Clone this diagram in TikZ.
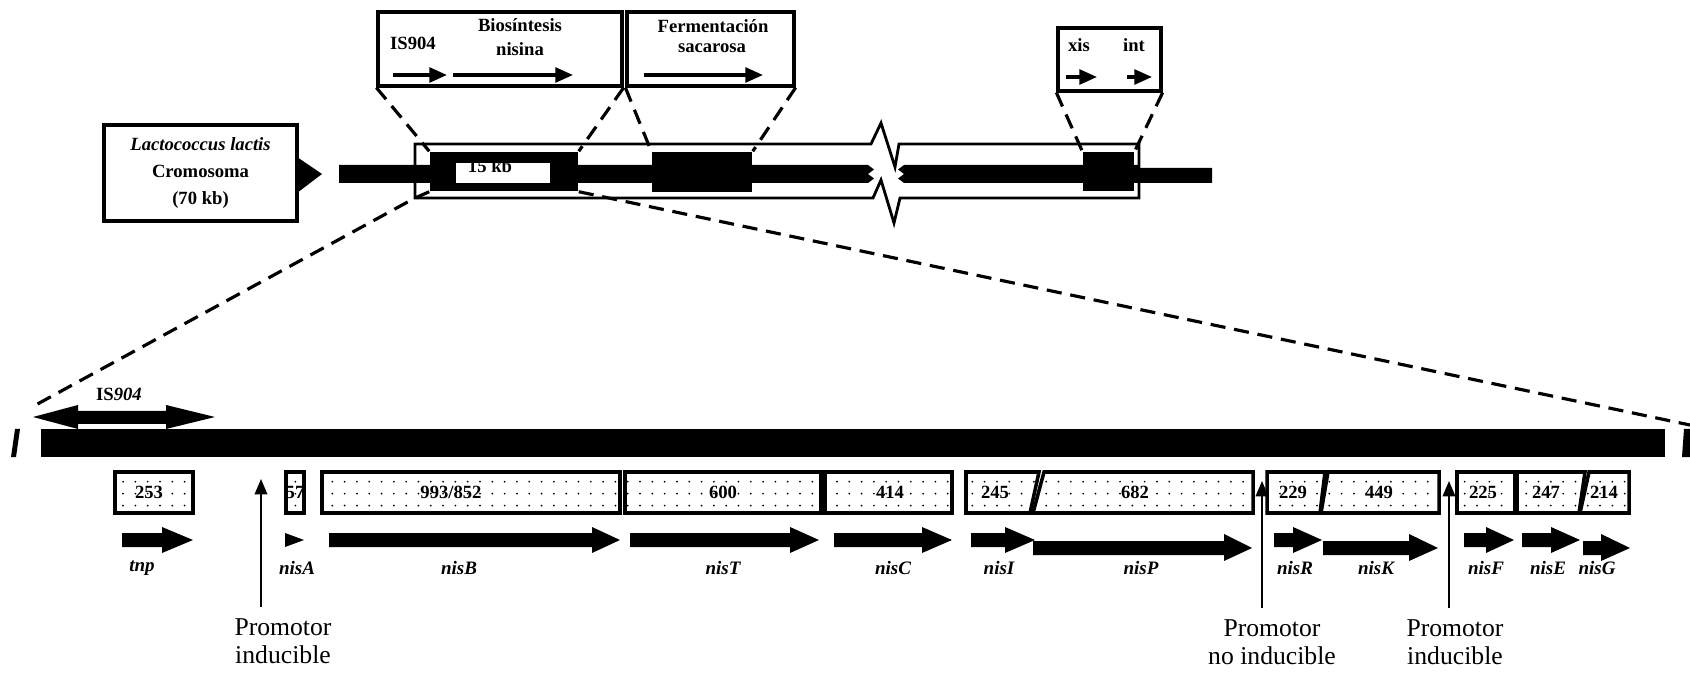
\documentclass[tikz,border=0pt]{standalone}
\usepackage{fontspec}
\setmainfont{Liberation Serif}
\usepackage{tikz}
\usetikzlibrary{arrows.meta,patterns.meta}

\tikzdeclarepattern{
  name=genedots,
  type=uncolored,
  bottom left={(-0.5pt,-0.5pt)},
  top right={(0.5pt,0.5pt)},
  tile size={(3.5pt,3.4pt)},
  code={\pgfpathcircle{\pgfpointorigin}{0.28pt}\pgfusepath{fill}}
}

\begin{document}
\begin{tikzpicture}[
    x=0.01cm, y=-0.01cm,
    every node/.style={font=\fontsize{5.3}{6.4}\selectfont\bfseries, inner sep=0.5pt},
    topbox/.style={draw, line width=0.9pt, inner sep=0pt},
    blk/.style={fill=black, inner sep=0pt},
    genebox/.style={draw, line width=1pt, pattern=genedots},
    genelbl/.style={font=\fontsize{5.4}{6.4}\selectfont\bfseries\itshape},
    promlbl/.style={font=\fontsize{7.3}{8}\selectfont, align=center},
    zoomline/.style={dashed, dash pattern=on 4.3pt off 2.5pt, line width=0.9pt},
    thickarr/.style={line width=0.9pt, -{Triangle[length=5pt,width=4.2pt]}},
    promarr/.style={line width=0.5pt, -{Triangle[length=4.4pt,width=3.6pt]}}
]
\useasboundingbox (0,0) rectangle (1690,673);

% cromosoma
\node[topbox, minimum width=1.93cm, minimum height=0.96cm, align=center,
      font=\fontsize{5.3}{7.8}\selectfont\bfseries] (chrbox) at (200.5,173)
      {\textit{Lactococcus lactis}\\Cromosoma\\(70 kb)};
\fill (297,157) -- (322,174) -- (297,193) -- cycle;

\fill (339,165) -- (868,165) -- (874,169.5) -- (868,174) -- (874,178.5) -- (868,183) -- (339,183) -- cycle;
\fill (904,165) -- (1139,165) -- (1139,168) -- (1212,168) -- (1212,183) -- (904,183)
    -- (898,178.5) -- (904,174) -- (898,169.5) -- cycle;

\draw[line width=0.8pt] (415,144) -- (871,144) -- (881,123) -- (895,167) -- (899,144) -- (1139,144)
    -- (1139,198) -- (900,198) -- (894,223) -- (881,180) -- (873,198) -- (415,198) -- cycle;

% regiones
\node[blk, minimum width=1.48cm, minimum height=0.39cm] (nisblk) at (504,171.5) {};
\node[fill=white, inner sep=0pt, minimum width=0.94cm, minimum height=0.20cm] (nisin) at (503,173) {};
\node[anchor=base] (kb) at (490,173) {15 kb};
\node[blk, minimum width=1.0cm, minimum height=0.40cm] (sacblk) at (702,172) {};
\node[blk, minimum width=0.51cm, minimum height=0.39cm] (xisblk) at (1108.5,171.5) {};

% cajas superiores
\node[topbox, minimum width=2.44cm, minimum height=0.74cm] (isbox) at (500,49) {};
\node[topbox, minimum width=1.67cm, minimum height=0.74cm] (sacbox) at (710.5,49) {};
\node[topbox, minimum width=1.03cm, minimum height=0.63cm] (xibox) at (1109.5,59.5) {};

\node (is) at (413,43) {IS904};
\node (bios) at (520,25) {Biosíntesis};
\node (nisina) at (520,49) {nisina};
\node (ferm) at (713,26) {Fermentación};
\node (sac) at (712,48) {sacarosa};
\node (xis) at (1079,45) {xis};
\node (int) at (1134,45) {int};

\draw[thickarr] (393,75) -- (447,75);
\draw[thickarr] (453,75) -- (573,75);
\draw[thickarr] (644,75) -- (763,75);
\draw[thickarr] (1066,77) -- (1097,77);
\draw[thickarr] (1127,77) -- (1152,77);

\draw[zoomline] (isbox.south west) -- (nisblk.north west);
\draw[zoomline] (isbox.south east) -- (nisblk.north east);
\draw[zoomline] (sacbox.south west) -- (sacblk.north west);
\draw[zoomline] (sacbox.south east) -- (sacblk.north east);
\draw[zoomline] (xibox.south west) -- (xisblk.north west);
\draw[zoomline] (xibox.south east) -- (xisblk.north east);

% ampliacion
\coordinate (lowleft) at (32,407);
\coordinate (lowright) at (1690,425);
\draw[zoomline] (nisblk.south west) -- (415,198) -- (lowleft);
\draw[zoomline] (nisblk.south east) -- (lowright);

\fill (41,429) rectangle (1665,457);
\fill (15,429) -- (20,429) -- (16,457) -- (11,457) -- cycle;
\fill (1684,429) -- (1690,429) -- (1690,457) -- (1682,457) -- cycle;

\fill (33,417) -- (78,405) -- (78,411) -- (166,411) -- (166,405) -- (215,417)
    -- (166,429) -- (166,424) -- (78,424) -- (78,429) -- cycle;
\node (islbl) at (119,394) {IS\textit{904}};

% genes
\draw[genebox] (115,472) rectangle (193,513);
\draw[genebox] (286,472) rectangle (304,513);
\draw[genebox] (322,472) rectangle (620,513);
\draw[genebox] (625,472) rectangle (821,513);
\draw[genebox] (825,472) rectangle (952,513);
\draw[genebox] (966,472) -- (1039,472) -- (1030,513) -- (966,513) -- cycle;
\draw[genebox] (1044,472) -- (1253,472) -- (1253,513) -- (1033,513) -- cycle;
\draw[genebox] (1267,472) -- (1325,472) -- (1320,513) -- (1267,513) -- cycle;
\draw[genebox] (1328,472) -- (1439,472) -- (1439,513) -- (1321,513) -- cycle;
\draw[genebox] (1457,472) rectangle (1515,513);
\draw[genebox] (1517,472) -- (1585,472) -- (1579,513) -- (1517,513) -- cycle;
\draw[genebox] (1589,472) -- (1629,472) -- (1629,513) -- (1580,513) -- cycle;

\node (n253) at (149,492) {253};
\node (n57) at (295,492) {57};
\node (n993) at (451,492) {993/852};
\node (n600) at (723,492) {600};
\node (n414) at (890,492) {414};
\node (n245) at (995,492) {245};
\node (n682) at (1135,492) {682};
\node (n229) at (1293,492) {229};
\node (n449) at (1379,492) {449};
\node (n225) at (1483,492) {225};
\node (n247) at (1546,492) {247};
\node (n214) at (1604,492) {214};

\fill (122,533) -- (162,533) -- (162,527) -- (193,540) -- (162,553) -- (162,547) -- (122,547) -- cycle;
\fill (285,533) -- (304,540) -- (285,547) -- cycle;
\fill (329,533) -- (592,533) -- (592,527) -- (620,540) -- (592,553) -- (592,547) -- (329,547) -- cycle;
\fill (630,533) -- (790,533) -- (790,527) -- (819,540) -- (790,553) -- (790,547) -- (630,547) -- cycle;
\fill (834,533) -- (922,533) -- (922,527) -- (952,540) -- (922,553) -- (922,547) -- (834,547) -- cycle;
\fill (971,533) -- (1005,533) -- (1005,527) -- (1035,540) -- (1005,553) -- (1005,547) -- (971,547) -- cycle;
\fill (1033,541) -- (1224,541) -- (1224,534) -- (1252,548) -- (1224,561) -- (1224,555) -- (1033,555) -- cycle;
\fill (1274,533) -- (1293,533) -- (1293,527) -- (1322,540) -- (1293,553) -- (1293,547) -- (1274,547) -- cycle;
\fill (1323,541) -- (1409,541) -- (1409,534) -- (1438,548) -- (1409,561) -- (1409,555) -- (1323,555) -- cycle;
\fill (1464,533) -- (1486,533) -- (1486,527) -- (1514,540) -- (1486,553) -- (1486,547) -- (1464,547) -- cycle;
\fill (1522,533) -- (1551,533) -- (1551,527) -- (1580,540) -- (1551,553) -- (1551,547) -- (1522,547) -- cycle;
\fill (1583,541) -- (1601,541) -- (1601,534) -- (1630,548) -- (1601,561) -- (1601,555) -- (1583,555) -- cycle;

\node[genelbl] (tnp) at (142,568) {tnp};
\node[genelbl] (nisA) at (297,568) {nisA};
\node[genelbl] (nisB) at (459,568) {nisB};
\node[genelbl] (nisT) at (723,568) {nisT};
\node[genelbl] (nisC) at (893,568) {nisC};
\node[genelbl] (nisI) at (999,568) {nisI};
\node[genelbl] (nisP) at (1141,568) {nisP};
\node[genelbl] (nisR) at (1295,568) {nisR};
\node[genelbl] (nisK) at (1376,568) {nisK};
\node[genelbl] (nisF) at (1486,568) {nisF};
\node[genelbl] (nisE) at (1548,568) {nisE};
\node[genelbl] (nisG) at (1597,568) {nisG};

% promotores
\node[promlbl] (prom1) at (283,641) {Promotor\\inducible};
\node[promlbl] (prom2) at (1272,642) {Promotor\\no inducible};
\node[promlbl] (prom3) at (1455,642) {Promotor\\inducible};
\coordinate (p1) at (261,479);
\coordinate (p2) at (1262,481);
\coordinate (p3) at (1449,481);
\draw[promarr] (261,607) -- (p1);
\draw[promarr] (1262,608) -- (p2);
\draw[promarr] (1449,608) -- (p3);

\end{tikzpicture}
\end{document}
